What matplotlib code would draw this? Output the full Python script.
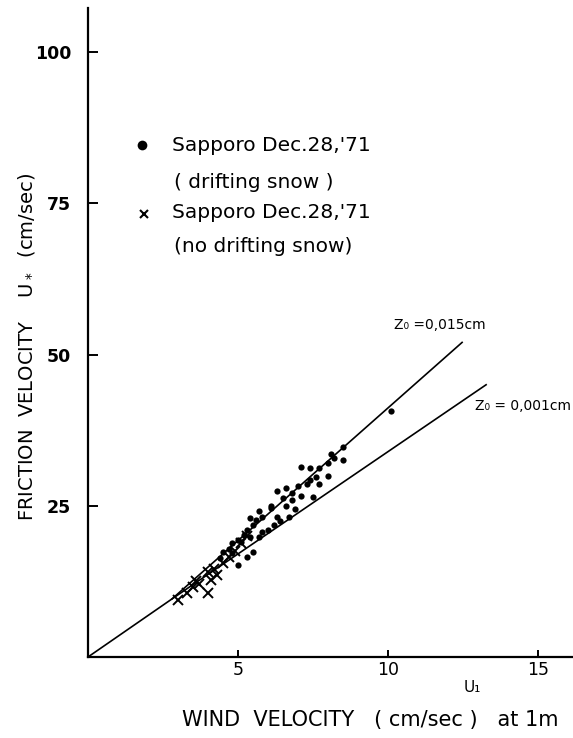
import matplotlib
matplotlib.use("Agg")
import matplotlib.pyplot as plt

# drifting snow (dots)
drift_u1 = [5.0, 5.3, 5.5, 5.4, 5.7, 6.1, 6.3, 6.6, 6.7, 7.0, 7.1, 7.4, 7.5, 7.7,
            8.0, 8.0, 8.2, 8.5, 8.5, 8.1, 5.8, 6.0, 6.1, 6.3, 6.5, 6.6, 6.8, 6.8,
            7.1, 7.3, 7.4, 7.6, 7.7, 5.5, 5.6, 5.3, 5.2, 5.0, 4.8, 4.7, 4.5, 4.4,
            5.7, 5.8, 5.1, 5.4, 4.8, 6.2, 6.4, 6.9, 10.1]
drift_us = [15.2, 16.6, 17.4, 23.0, 24.1, 25.0, 27.4, 28.0, 23.2, 28.2, 31.4, 31.2,
            26.4, 31.2, 30.0, 32.1, 32.9, 32.6, 34.7, 33.6, 23.2, 21.0, 24.6, 23.2,
            26.2, 24.9, 26.0, 27.1, 26.6, 28.6, 29.2, 29.8, 28.6, 21.8, 22.6, 21.0,
            20.1, 19.4, 18.8, 17.9, 17.3, 16.3, 19.9, 20.7, 19.0, 19.8, 17.2, 21.9,
            22.5, 24.5, 40.7]

# no drifting snow (crosses)
nodrift_u1 = [3.0, 3.3, 3.5, 3.6, 3.7, 4.0, 4.0, 4.1, 4.2, 4.3, 4.5, 4.7, 4.9, 5.1, 5.3]
nodrift_us = [9.5, 10.5, 11.5, 12.5, 12.0, 10.5, 14.0, 12.8, 14.5, 13.5, 15.5, 16.5,
              17.5, 18.8, 20.0]

# log-profile lines
line_015_u1 = [2.8, 12.47]
line_015_us = [9.6, 52.0]
line_001_u1 = [0.0, 1.4, 2.8, 13.27]
line_001_us = [0.0, 4.8, 9.6, 45.0]

xticks = [5, 10, 15]
yticks = [25, 50, 75, 100]

fig = plt.figure(figsize=(5.73, 7.38), dpi=100)
ax = fig.add_axes([88 / 573, 81 / 738, 485 / 573, 649 / 738])

ax.plot(line_001_u1, line_001_us, color="black", lw=1.2)
ax.plot(line_015_u1, line_015_us, color="black", lw=1.2)
ax.plot(drift_u1, drift_us, "o", color="black", ms=4.5, mec="none")
ax.plot(nodrift_u1, nodrift_us, "x", color="black", ms=6.5, mew=1.4)

ax.set_xlim(0, 485 / 30)
ax.set_ylim(0, 649 / 6.05)
ax.spines["top"].set_visible(False)
ax.spines["right"].set_visible(False)
ax.spines["left"].set_linewidth(1.6)
ax.spines["bottom"].set_linewidth(1.6)
ax.set_xticks(xticks)
ax.set_yticks(yticks)
ax.tick_params(axis="x", direction="in", length=5, width=1.4, labelsize=12.5, pad=3)
ax.tick_params(axis="y", direction="in", length=7, width=1.4, labelsize=12.5, pad=12)
for lab in ax.get_yticklabels():
    lab.set_fontweight("bold")

ax.text(12.8, -5.1, "U₁", fontsize=11, ha="center", va="center")
fig.text(182 / 573, 1 - 720 / 738, "WIND  VELOCITY   ( cm/sec )   at 1m",
         fontsize=15, ha="left", va="center")
fig.text(27 / 573, 1 - 347 / 738, "FRICTION  VELOCITY    U$_*$  (cm/sec)",
         fontsize=14, ha="center", va="center", rotation=90)

ax.text(10.2, 54.9, "Z₀ =0,015cm", fontsize=10, ha="left", va="center")
ax.text(12.9, 41.5, "Z₀ = 0,001cm", fontsize=10, ha="left", va="center")

# legend drawn as text
ax.plot([1.8], [84.6], "o", color="black", ms=7, mec="none")
ax.text(2.8, 84.5, "Sapporo Dec.28,'71", fontsize=14.5, va="center")
ax.text(2.85, 78.5, "( drifting snow )", fontsize=14.5, va="center")
ax.plot([1.85], [73.2], "x", color="black", ms=6, mew=1.5)
ax.text(2.8, 73.4, "Sapporo Dec.28,'71", fontsize=14.5, va="center")
ax.text(2.85, 67.9, "(no drifting snow)", fontsize=14.5, va="center")

fig.savefig("out.png", dpi=100)
